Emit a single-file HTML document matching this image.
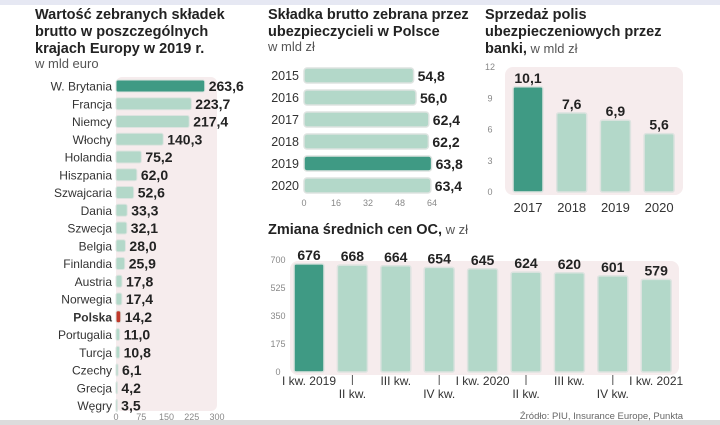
<!DOCTYPE html>
<html><head><meta charset="utf-8">
<style>
html,body{margin:0;padding:0;background:#fff;}
svg{display:block;font-family:"Liberation Sans","DejaVu Sans",sans-serif;}
.t{font-weight:bold;font-size:14.5px;fill:#222;}
.s{font-size:13px;fill:#555;}
.lab{font-size:12px;fill:#333;}
.val{font-weight:bold;font-size:14px;fill:#222;}
.tick{font-size:9px;fill:#888;}
</style></head><body>
<svg id="svg" width="720" height="425" viewBox="0 0 720 425">
<rect x="0" y="0" width="720" height="5" fill="#e6e8f3"/>
<rect x="0" y="420" width="720" height="5" fill="#dcdcdc"/>
<g>
<text class="t" x="35" y="19">Wartość zebranych składek</text>
<text class="t" x="35" y="36">brutto w poszczególnych</text>
<text class="t" x="35" y="53">krajach Europy w 2019 r.</text>
<text class="s" x="35" y="68">w mld euro</text>
</g>
<g>
<text class="t" x="268" y="19">Składka brutto zebrana przez</text>
<text class="t" x="268" y="36">ubezpieczycieli w Polsce</text>
<text class="s" x="268" y="51">w mld zł</text>
</g>
<g>
<text class="t" x="485" y="19">Sprzedaż polis</text>
<text class="t" x="485" y="36">ubezpieczeniowych przez</text>
<text class="t" x="485" y="53">banki,<tspan class="s" style="font-weight:normal"> w mld zł</tspan></text>
</g>
<g>
<text class="t" x="268" y="234">Zmiana średnich cen OC,<tspan class="s" style="font-weight:normal"> w zł</tspan></text>
</g>
<text x="683" y="419" text-anchor="end" style="font-size:9.5px;fill:#666">Źródło: PIU, Insurance Europe, Punkta</text>
<g id="c1"></g><g id="c2"></g><g id="c3"></g><g id="c4"></g>
</svg>
<script>
const countries=["W. Brytania","Francja","Niemcy","Włochy","Holandia","Hiszpania","Szwajcaria","Dania","Szwecja","Belgia","Finlandia","Austria","Norwegia","Polska","Portugalia","Turcja","Czechy","Grecja","Węgry"];
const countryValues=[263.6,223.7,217.4,140.3,75.2,62.0,52.6,33.3,32.1,28.0,25.9,17.8,17.4,14.2,11.0,10.8,6.1,4.2,3.5];
const c1Ticks=[0,75,150,225,300];
const years2=["2015","2016","2017","2018","2019","2020"];
const values2=[54.8,56.0,62.4,62.2,63.8,63.4];
const c2Ticks=[0,16,32,48,64];
const years3=["2017","2018","2019","2020"];
const values3=[10.1,7.6,6.9,5.6];
const c3Ticks=[0,3,6,9,12];
const quarters=["I kw. 2019","II kw.","III kw.","IV kw.","I kw. 2020","II kw.","III kw.","IV kw.","I kw. 2021"];
const values4=[676,668,664,654,645,624,620,601,579];
const c4Ticks=[0,175,350,525,700];

const NS="http://www.w3.org/2000/svg";
function mk(parent,tag,attrs,text){const e=document.createElementNS(NS,tag);for(const k in attrs)e.setAttribute(k,attrs[k]);if(text!==undefined)e.textContent=text;parent.appendChild(e);return e;}
const fmt=v=>v.toFixed(1).replace('.',',');
const DARK="#3f9a84",LIGHT="#b3d8c9",EDGE="#dde3e0",BG="#f6eced";

// Chart 1
(function(){
const g=document.getElementById('c1');
const x=v=>116+v*(101/300), y=i=>80+i*17.75;
const bg=mk(g,'rect',{x:116,y:77,width:101,height:334,rx:6,fill:BG});

countries.forEach((c,i)=>{
 const hl=c==="Polska";
 const col=i===0?DARK:(hl?"#c0392b":LIGHT);
 const b=mk(g,'rect',{x:x(0),y:y(i),width:Math.max(x(countryValues[i])-x(0),1.5),height:12,rx:2,fill:col,stroke:EDGE,'stroke-width':1});
 
 
 const l=mk(g,'text',{x:112,y:y(i)+10.5,'text-anchor':'end',class:'lab',style:hl?'font-weight:bold':''},c);
 
 const v=mk(g,'text',{x:x(countryValues[i])+4,y:y(i)+11,class:'val'},fmt(countryValues[i]));
 
});
c1Ticks.forEach(t=>{const e=mk(g,'text',{x:x(t),y:420,'text-anchor':'middle',class:'tick'},t);
 });
})();

// Chart 2
(function(){
const g=document.getElementById('c2');
const x=v=>304+v*(128/64), y=i=>68+i*22;
years2.forEach((c,i)=>{
 const b=mk(g,'rect',{x:x(0),y:y(i),width:x(values2[i])-x(0),height:15,rx:3,fill:c==="2019"?DARK:LIGHT,stroke:EDGE,'stroke-width':1.5});
 
 const l=mk(g,'text',{x:299,y:y(i)+12,'text-anchor':'end',class:'lab',style:'font-size:12.5px'},c);
 
 const v=mk(g,'text',{x:x(values2[i])+4,y:y(i)+13,class:'val'},fmt(values2[i]));
 
});
c2Ticks.forEach(t=>{const e=mk(g,'text',{x:x(t),y:206,'text-anchor':'middle',class:'tick'},t);
 });
})();

// Chart 3
(function(){
const g=document.getElementById('c3');
const y=v=>192-v*(125/12), cx=i=>528+i*43.7;
const bg=mk(g,'rect',{x:505,y:67,width:178,height:128,rx:8,fill:BG});

c3Ticks.forEach(t=>{const e=mk(g,'text',{x:490,y:y(t)+3,'text-anchor':'middle',class:'tick'},t);
 });
years3.forEach((c,i)=>{
 const b=mk(g,'rect',{x:cx(i)-15,y:y(values3[i]),width:30,height:y(0)-y(values3[i]),rx:2,fill:i===0?DARK:LIGHT,stroke:EDGE,'stroke-width':1.5});
 
 const v=mk(g,'text',{x:cx(i),y:y(values3[i])-4,'text-anchor':'middle',class:'val'},fmt(values3[i]));
 
 const l=mk(g,'text',{x:cx(i),y:212,'text-anchor':'middle',class:'lab',style:'font-size:13px'},c);
 
});
})();

// Chart 4
(function(){
const g=document.getElementById('c4');
const y=v=>372-v*(112/700), cx=i=>309+i*43.4;
const bg=mk(g,'rect',{x:290,y:261,width:389,height:114,rx:8,fill:BG});

c4Ticks.forEach(t=>{const e=mk(g,'text',{x:278,y:y(t)+3,'text-anchor':'middle',class:'tick'},t);
 });
quarters.forEach((c,i)=>{
 const b=mk(g,'rect',{x:cx(i)-15,y:y(values4[i]),width:30,height:y(0)-y(values4[i]),rx:2,fill:i===0?DARK:LIGHT,stroke:EDGE,'stroke-width':1.5});
 
 const v=mk(g,'text',{x:cx(i),y:y(values4[i])-4,'text-anchor':'middle',class:'val'},values4[i]);
 
 const odd=i%2===1;
 if(odd){const tk=mk(g,'line',{x1:cx(i),x2:cx(i),y1:375,y2:385,stroke:'#555','stroke-width':1});
  }
 const l=mk(g,'text',{x:cx(i),y:odd?398:385,'text-anchor':'middle',class:'lab',style:'font-size:12px'},c);
 
});
})();
</script>
</body></html>
